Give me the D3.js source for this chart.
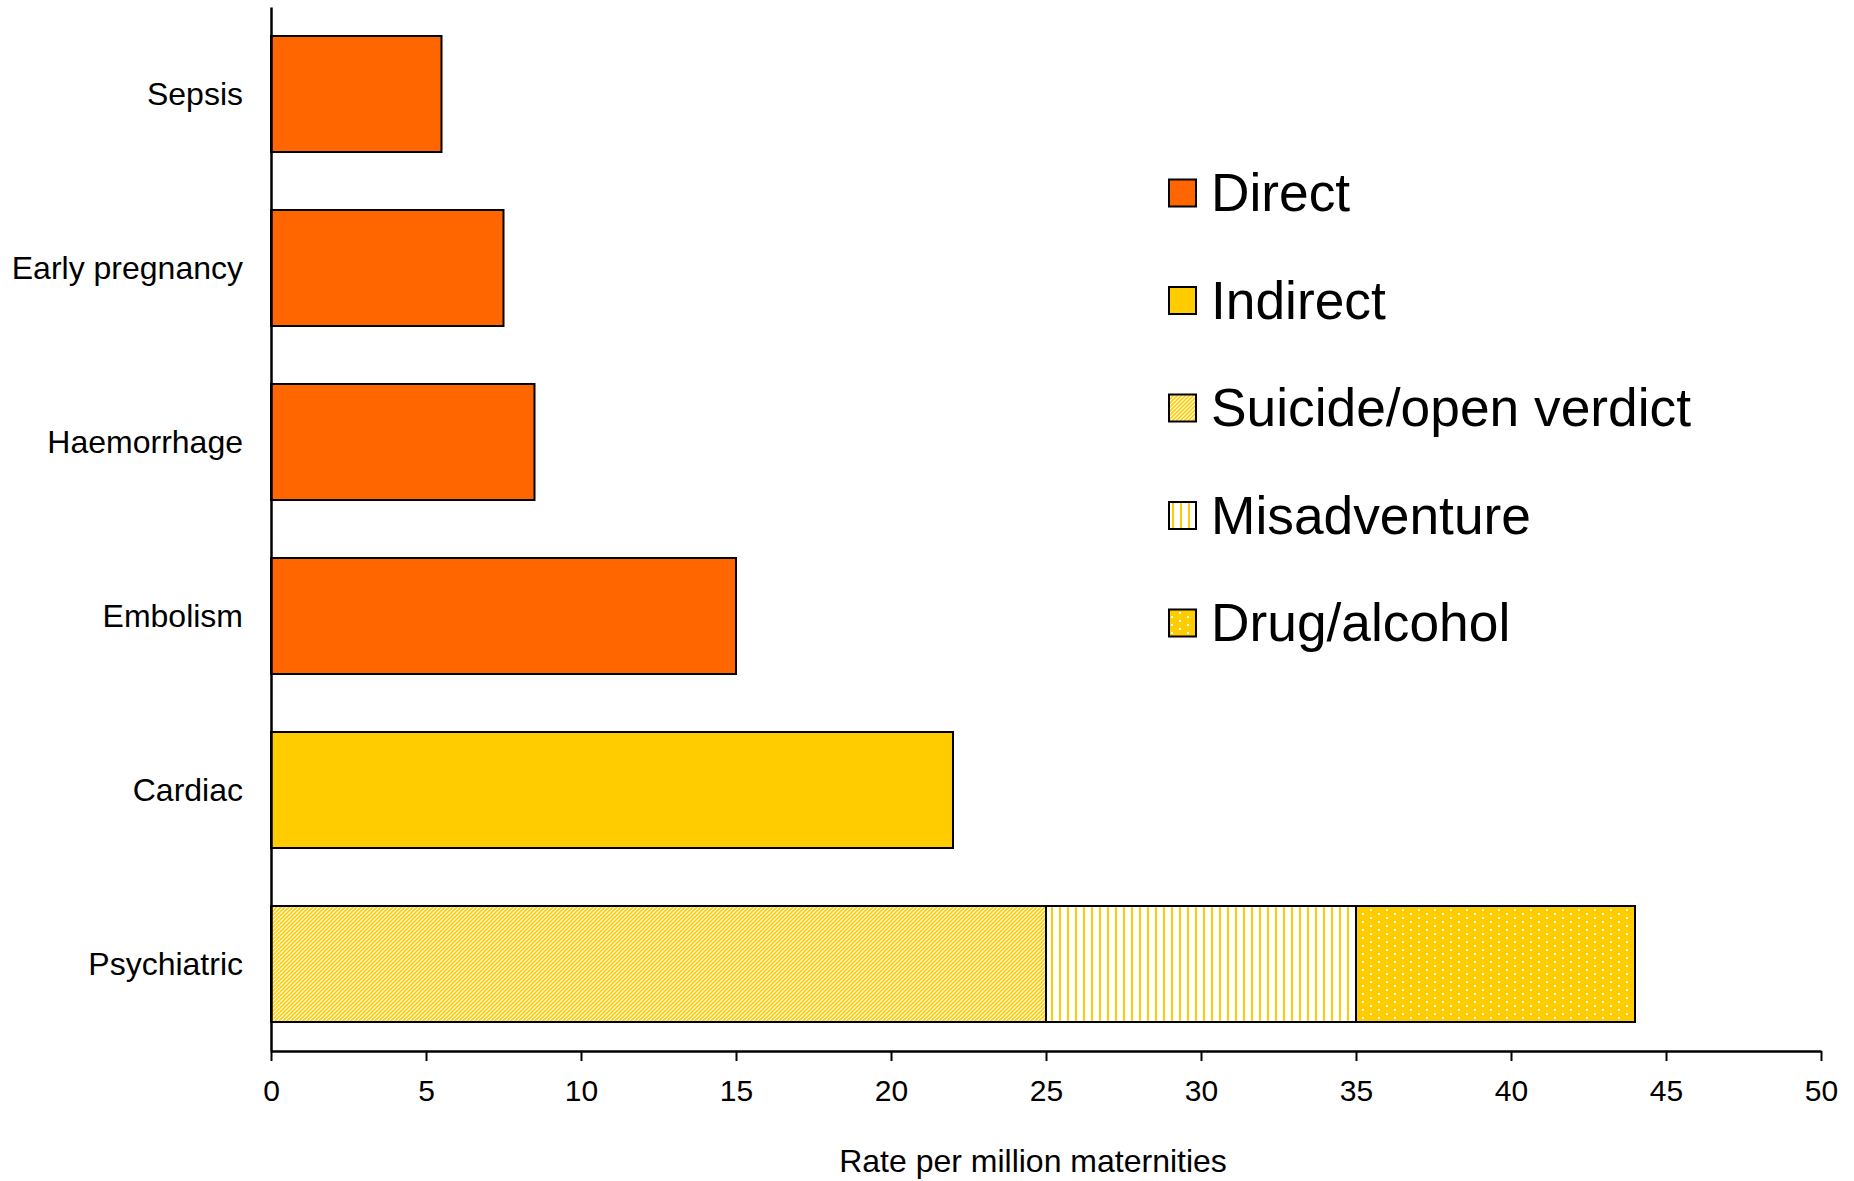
<!DOCTYPE html>
<html>
<head>
<meta charset="utf-8">
<script src="https://cdn.jsdelivr.net/npm/d3@7"></script>
<style>
  html, body { margin: 0; padding: 0; background: #fff; }
  svg { display: block; }
  text { font-family: "Liberation Sans", Arial, sans-serif; fill: #000; }
</style>
</head>
<body>
<svg id="chart" width="1854" height="1181"></svg>
<script>
const categories = ["Sepsis", "Early pregnancy", "Haemorrhage", "Embolism", "Cardiac", "Psychiatric"];
const directValues = [5.5, 7.5, 8.5, 15, 0, 0];
const indirectValues = [0, 0, 0, 0, 22, 0];
const suicideValues = [0, 0, 0, 0, 0, 25];
const misadventureValues = [0, 0, 0, 0, 0, 10];
const drugValues = [0, 0, 0, 0, 0, 9];
const seriesKeys = ["Direct", "Indirect", "Suicide/open verdict", "Misadventure", "Drug/alcohol"];
const xTicks = [0, 5, 10, 15, 20, 25, 30, 35, 40, 45, 50];
const xTitle = "Rate per million maternities";

const seriesArrays = [directValues, indirectValues, suicideValues, misadventureValues, drugValues];
const table = categories.map((c, i) => {
  const row = { category: c };
  seriesKeys.forEach((k, j) => row[k] = seriesArrays[j][i]);
  return row;
});

const svg = d3.select("#chart");
const defs = svg.append("defs");

const ORANGE = "#FF6600", YELLOW = "#FFCC00";

// diagonal stripes
const pDiag = defs.append("pattern").attr("id", "pDiag")
  .attr("patternUnits", "userSpaceOnUse").attr("width", 4).attr("height", 4);
pDiag.append("rect").attr("width", 4).attr("height", 4).attr("fill", "#fff");
pDiag.append("path").attr("d", "M-1,1 L1,-1 M0,4 L4,0 M3,5 L5,3")
  .attr("stroke", YELLOW).attr("stroke-width", 1.6);

// vertical stripes
const pVert = defs.append("pattern").attr("id", "pVert")
  .attr("patternUnits", "userSpaceOnUse").attr("width", 8).attr("height", 8);
pVert.append("rect").attr("width", 8).attr("height", 8).attr("fill", "#fff");
pVert.append("rect").attr("x", 3).attr("width", 2).attr("height", 8).attr("fill", YELLOW);

// dots
const pDots = defs.append("pattern").attr("id", "pDots")
  .attr("patternUnits", "userSpaceOnUse").attr("width", 16).attr("height", 8);
pDots.append("rect").attr("width", 16).attr("height", 8).attr("fill", YELLOW);
pDots.append("rect").attr("x", 2).attr("y", 1).attr("width", 2).attr("height", 2).attr("fill", "#fff");
pDots.append("rect").attr("x", 10).attr("y", 5).attr("width", 2).attr("height", 2).attr("fill", "#fff");

const fills = d3.scaleOrdinal().domain(seriesKeys)
  .range([ORANGE, YELLOW, "url(#pDiag)", "url(#pVert)", "url(#pDots)"]);

const x = d3.scaleLinear().domain([0, 50]).range([271, 1821]);
const y = d3.scaleBand().domain(categories).range([7, 1051])
  .paddingInner(1 / 3).paddingOuter(1 / 6);

const stack = d3.stack().keys(seriesKeys);
const stacked = stack(table);

const gBars = svg.append("g");
stacked.forEach(layer => {
  gBars.selectAll(null)
    .data(layer.filter(d => d[1] - d[0] > 0))
    .join("rect")
    .attr("x", d => x(d[0]))
    .attr("y", d => y(d.data.category))
    .attr("width", d => x(d[1]) - x(d[0]))
    .attr("height", y.bandwidth())
    .attr("fill", fills(layer.key))
    .attr("stroke", "#000")
    .attr("stroke-width", 2);
});

// y axis
const yAxis = svg.append("g").attr("transform", "translate(271,0)")
  .call(d3.axisLeft(y).tickSize(0).tickSizeOuter(0).tickPadding(28));
yAxis.select(".domain").attr("stroke", "#000").attr("stroke-width", 2.5);
yAxis.selectAll(".tick text")
  .attr("font-size", 32)
  .attr("font-family", "Liberation Sans, Arial, sans-serif")
  .attr("fill", "#000")
  .attr("dy", "0.35em");

// x axis
const xAxis = svg.append("g").attr("transform", "translate(0,1051)")
  .call(d3.axisBottom(x).tickValues(xTicks).tickSize(10).tickSizeOuter(0).tickFormat(d3.format("d")));
xAxis.select(".domain").attr("stroke", "#000").attr("stroke-width", 2.5);
xAxis.selectAll(".tick line").attr("stroke", "#000").attr("stroke-width", 2);
xAxis.selectAll(".tick text")
  .attr("font-size", 30)
  .attr("font-family", "Liberation Sans, Arial, sans-serif")
  .attr("fill", "#000")
  .attr("y", 50)
  .attr("dy", null);

svg.append("text")
  .attr("x", 1033).attr("y", 1172)
  .attr("text-anchor", "middle")
  .attr("font-size", 32)
  .text(xTitle);

// legend
const legendY = d3.scalePoint().domain(seriesKeys).range([193, 623]);
const legend = svg.append("g");
const items = legend.selectAll("g").data(seriesKeys).join("g")
  .attr("transform", d => `translate(1169,${legendY(d)})`);
items.append("rect")
  .attr("x", 0).attr("y", -13.5).attr("width", 27).attr("height", 27)
  .attr("fill", d => fills(d))
  .attr("stroke", "#000").attr("stroke-width", 2);
items.append("text")
  .attr("x", 42).attr("y", 18)
  .attr("font-size", 53.3)
  .text(d => d);
</script>
</body>
</html>
